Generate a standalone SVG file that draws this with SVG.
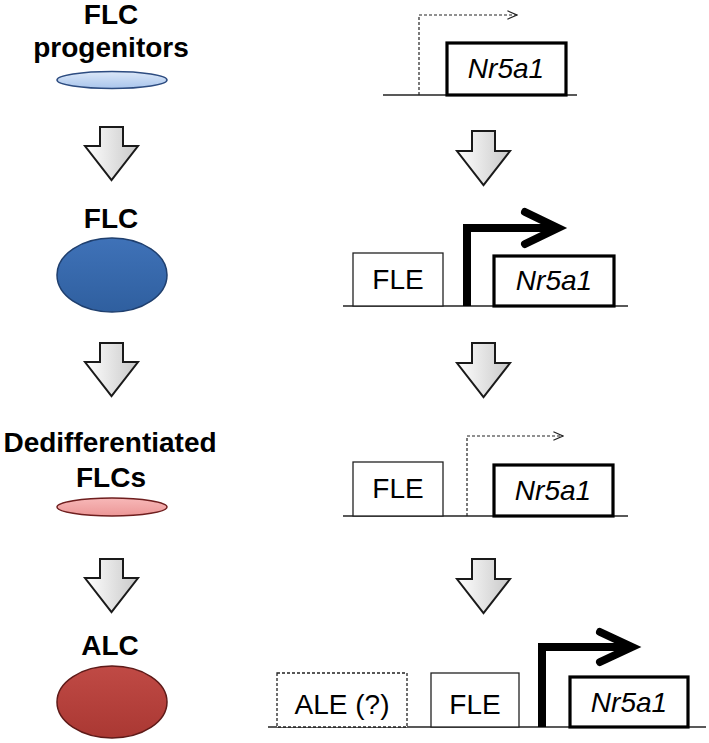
<svg xmlns="http://www.w3.org/2000/svg" width="709" height="743" viewBox="0 0 709 743">
<defs>
<linearGradient id="arrowGrad" x1="0" y1="0" x2="1" y2="0">
<stop offset="0" stop-color="#ffffff"/><stop offset="1" stop-color="#c8c8c8"/>
</linearGradient>
<linearGradient id="progGrad" x1="0" y1="0" x2="0" y2="1">
<stop offset="0" stop-color="#dce8f8"/><stop offset="1" stop-color="#a9c5ec"/>
</linearGradient>
<linearGradient id="flcGrad" x1="0" y1="0" x2="0" y2="1">
<stop offset="0" stop-color="#3f72b8"/><stop offset="1" stop-color="#2f5f9f"/>
</linearGradient>
<linearGradient id="dedGrad" x1="0" y1="0" x2="0" y2="1">
<stop offset="0" stop-color="#f7b8b8"/><stop offset="1" stop-color="#ec9797"/>
</linearGradient>
<linearGradient id="alcGrad" x1="0" y1="0" x2="0" y2="1">
<stop offset="0" stop-color="#c04a45"/><stop offset="1" stop-color="#aa3833"/>
</linearGradient>
<marker id="chev" viewBox="0 0 10 10" refX="9" refY="5" markerWidth="12" markerHeight="12" markerUnits="userSpaceOnUse" orient="auto">
<path d="M1,1.5 L9,5 L1,8.5" fill="none" stroke="#222" stroke-width="1"/>
</marker>
</defs>
<style>
.lbl{font-family:"Liberation Sans",Arial,sans-serif;font-weight:bold;font-size:28px;fill:#000;text-anchor:middle}
.t{font-family:"Liberation Sans",Arial,sans-serif;font-size:28px;fill:#000;text-anchor:middle}
.it{font-style:italic}
.blk{fill:url(#arrowGrad);stroke:#1a1a1a;stroke-width:2;stroke-linejoin:miter}
.base{stroke:#222;stroke-width:1.5;fill:none}
.box{fill:#fff;stroke:#222;stroke-width:1.3}
.gene{fill:#fff;stroke:#000;stroke-width:3.2}
.dash{fill:none;stroke:#222;stroke-width:1.2;stroke-dasharray:3,2}
.bold{fill:none;stroke:#000;stroke-width:8;stroke-linejoin:miter}
.boldhead{fill:none;stroke:#000;stroke-width:8;stroke-linecap:round;stroke-linejoin:miter}
</style>

<g id="cell-progenitors">
<text class="lbl" x="111" y="24">FLC</text>
<text class="lbl" x="111" y="57">progenitors</text>
<ellipse cx="112" cy="80" rx="55" ry="8.5" fill="url(#progGrad)" stroke="#2d4c80" stroke-width="1.5"/>
</g>
<g id="cell-flc">
<text class="lbl" x="111" y="228">FLC</text>
<ellipse cx="112" cy="275" rx="55" ry="37" fill="url(#flcGrad)" stroke="#1f3f6e" stroke-width="1.5"/>
</g>
<g id="cell-dedif">
<text class="lbl" x="110" y="452">Dedifferentiated</text>
<text class="lbl" x="111" y="487">FLCs</text>
<ellipse cx="112" cy="507" rx="55" ry="9" fill="url(#dedGrad)" stroke="#6e1e1e" stroke-width="1.5"/>
</g>
<g id="cell-alc">
<text class="lbl" x="110" y="655">ALC</text>
<ellipse cx="112" cy="702" rx="55" ry="36" fill="url(#alcGrad)" stroke="#5e1a18" stroke-width="1.5"/>
</g>

<g id="gene-stage1">
<line class="base" x1="383" y1="95" x2="577" y2="95"/>
<polyline class="dash" points="419,95 419,15 517,15" marker-end="url(#chev)"/>
<rect class="gene" x="447" y="43" width="119" height="52"/>
<text class="t it" x="506" y="78">Nr5a1</text>
</g>
<g id="gene-stage2">
<line class="base" x1="343" y1="306" x2="628" y2="306"/>
<rect class="box" x="353" y="253" width="90" height="53"/>
<text class="t" x="398" y="289">FLE</text>
<polyline class="bold" points="467,306 467,228 555,228"/>
<polyline class="boldhead" points="525,212 558,228 525,244"/>
<rect class="gene" x="494" y="256" width="120" height="50"/>
<text class="t it" x="554" y="290">Nr5a1</text>
</g>
<g id="gene-stage3">
<line class="base" x1="343" y1="516" x2="628" y2="516"/>
<rect class="box" x="353" y="462" width="90" height="54"/>
<text class="t" x="398" y="498">FLE</text>
<polyline class="dash" points="467,516 467,436 563,436" marker-end="url(#chev)"/>
<rect class="gene" x="494" y="465" width="119" height="51"/>
<text class="t it" x="553" y="500">Nr5a1</text>
</g>
<g id="gene-stage4">
<line class="base" x1="268" y1="727" x2="706" y2="727"/>
<rect class="box" x="277" y="673" width="130" height="54" stroke-dasharray="3,2"/>
<text class="t" x="342" y="714">ALE (?)</text>
<rect class="box" x="431" y="673" width="88" height="54"/>
<text class="t" x="475" y="714">FLE</text>
<polyline class="bold" points="542,727 542,647 628,647"/>
<polyline class="boldhead" points="600,632 632,647 600,662"/>
<rect class="gene" x="570" y="677" width="118" height="50"/>
<text class="t it" x="629" y="712">Nr5a1</text>
</g>

<g id="connectors">
<path class="blk" d="M100,127 H123 V146 H138 L111.5,180 L85,146 H100 Z"/>
<path class="blk" d="M100,343 H123 V362 H138 L111.5,396 L85,362 H100 Z"/>
<path class="blk" d="M100,559 H123 V578 H138 L111.5,612 L85,578 H100 Z"/>
<path class="blk" d="M472,131 H495 V151 H510 L483.5,185 L457,151 H472 Z"/>
<path class="blk" d="M472,343 H495 V363 H510 L483.5,397 L457,363 H472 Z"/>
<path class="blk" d="M472,559 H495 V579 H510 L483.5,613 L457,579 H472 Z"/>
</g>
</svg>
